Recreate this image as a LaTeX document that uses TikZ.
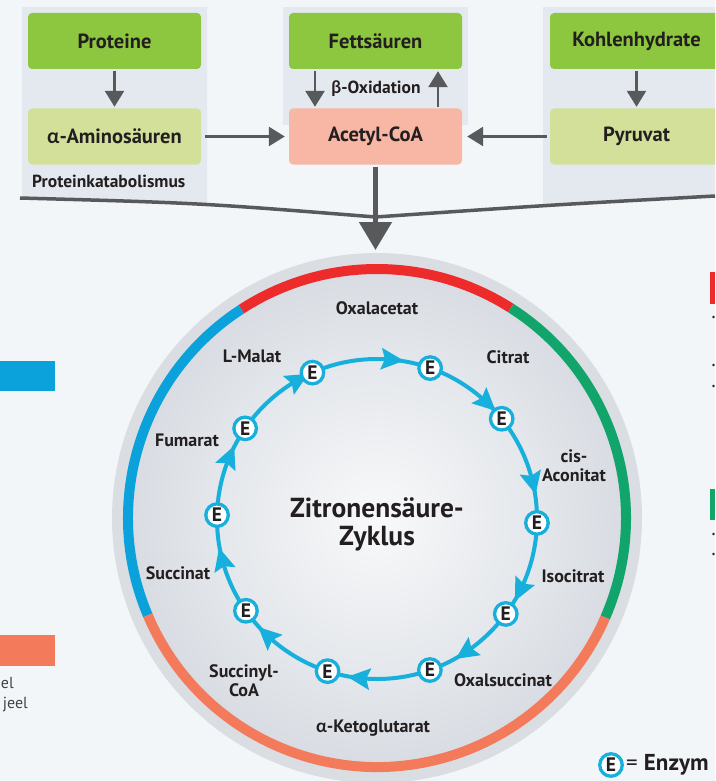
\documentclass[tikz,border=0pt]{standalone}
\usepackage{fontspec}
\setmainfont{PT Sans}
\newfontfamily\grk{Lato}
\usetikzlibrary{arrows.meta}
\definecolor{bg}{HTML}{F3F6F9}
\definecolor{panel}{HTML}{E4E9EF}
\definecolor{gboxc}{HTML}{8DC63F}
\definecolor{lboxc}{HTML}{D3E09A}
\definecolor{sboxc}{HTML}{F8B6A5}
\definecolor{agray}{HTML}{58595B}
\definecolor{ringred}{HTML}{EE2B2B}
\definecolor{ringgreen}{HTML}{12A56B}
\definecolor{ringblue}{HTML}{0BA2DB}
\definecolor{ringorange}{HTML}{F47A5C}
\definecolor{cyc}{HTML}{17B0DD}
\definecolor{txt}{HTML}{231F20}
\definecolor{diskedge}{HTML}{DADEE3}
\definecolor{diskin}{HTML}{F8F9FA}
\definecolor{diskout}{HTML}{D9DDE3}
\begin{document}
\begin{tikzpicture}[x=1pt,y=-1pt,
  box/.style={rounded corners=4pt, minimum width=173pt, minimum height=56pt, inner sep=0pt,
    font=\bfseries\fontsize{20.5}{23}\selectfont, text=txt},
  arr/.style={draw=agray, line width=2.6pt, -{Triangle[width=19pt,length=16pt]}},
  enz/.style={circle, draw=cyc, line width=3.3pt, fill=white, minimum size=22.5pt, inner sep=0pt,
    font=\bfseries\fontsize{19.5}{19.5}\selectfont, text=txt},
  lab/.style={font=\bfseries\fontsize{18}{19}\selectfont, text=txt, align=center, inner sep=0pt},
  small/.style={font=\bfseries\fontsize{17.5}{19}\selectfont, text=txt, inner sep=0pt}]
\useasboundingbox (0,0) rectangle (715,781);
\clip (0,0) rectangle (715,781);
\fill[bg] (0,0) rectangle (715,781);
% panels
\fill[panel] (22,7) -- (207,7) -- (207,205) -- (22,197) -- cycle;
\fill[panel] (283,7) rectangle (468,125);
\fill[panel] (543,7) -- (715,7) -- (715,195) -- (543,205) -- cycle;
% boxes
\node[box, fill=gboxc] (prot) at (114.5,41) {Proteine};
\node[box, fill=lboxc] (amino) at (114.5,136.5) {{\grk α}-Aminosäuren};
\node[box, fill=gboxc] (fett) at (375.5,41) {Fettsäuren};
\node[box, fill=sboxc] (acetyl) at (375.5,136.5) {Acetyl-CoA};
\node[box, fill=gboxc] (kohl) at (636.5,41) {Kohlenhydrate};
\node[box, fill=lboxc] (pyr) at (636.5,136.5) {Pyruvat};
\node[small, anchor=west] (katab) at (32,181) {Proteinkatabolismus};
\node[small] (beta) at (376,89) {{\grk β}-Oxidation};
% small arrows
\draw[arr, shorten <=2pt, shorten >=1.5pt] (prot.south) -- (amino.north);
\draw[arr, shorten <=2pt, shorten >=1.5pt] ([xshift=-60.5pt]fett.south) -- ([xshift=-60.5pt]acetyl.north);
\draw[arr, shorten <=1.5pt, shorten >=2pt] ([xshift=62.5pt]acetyl.north) -- ([xshift=62.5pt]fett.south);
\draw[arr, shorten <=2pt, shorten >=1.5pt] (kohl.south) -- (pyr.north);
\draw[arr, shorten <=4pt, shorten >=4pt] (amino.east) -- (acetyl.west);
\draw[arr, shorten <=3pt, shorten >=5pt] (pyr.west) -- (acetyl.east);
% funnel line
\coordinate (fl) at (20,198);
\coordinate (fm) at (375.5,217);
\coordinate (fr) at (715,196);
\draw[agray, line width=3.5pt] (fl) .. controls (200,203) .. (fm) .. controls (550,205) .. (fr);
% disk
\fill[diskedge] (377,518) circle (265);
\shade[inner color=diskin, outer color=diskout] (377,518) circle (244);
% big arrow
\coordinate (tip) at (375.5,250);
\draw[agray, line width=5pt, -{Triangle[width=32pt,length=28pt]}, shorten <=2pt] (acetyl.south) -- (tip);
% ring and cycle
\begin{scope}[shift={(377,518)}, yscale=-1]
  \draw[ringred, line width=10pt] (57.5:249) arc[start angle=57.5, end angle=123, radius=249];
  \draw[ringblue, line width=10pt] (123:249) arc[start angle=123, end angle=203, radius=249];
  \draw[ringorange, line width=10pt] (203:249) arc[start angle=203, end angle=336.5, radius=249];
  \draw[ringgreen, line width=10pt] (336.5:249) arc[start angle=336.5, end angle=417.5, radius=249];
  \draw[cyc, line width=4pt] (0,-1) circle (160);
  \foreach \a in {96,56,26,-13.5,-47,-85,-120,-157.5,165,133}
    \fill[cyc, shift={(0,-1)}, rotate=\a] (160,-13) -- (171,10) -- (160,6) -- (149,10) -- cycle;
  \begin{scope}[shift={(0,-1)}]
  \node[enz] (e1) at (113.8:160) {E};
  \node[enz] (e2) at (70.6:160) {E};
  \node[enz] (e3) at (38.8:160) {E};
  \node[enz] (e4) at (-1.4:160) {E};
  \node[enz] (e5) at (-36.4:160) {E};
  \node[enz] (e6) at (-70.7:160) {E};
  \node[enz] (e7) at (-108:160) {E};
  \node[enz] (e8) at (-145:160) {E};
  \node[enz] (e9) at (178.6:160) {E};
  \node[enz] (e10) at (145.5:160) {E};
  \end{scope}
\end{scope}
% labels
\node[lab] (oxa) at (377,308) {Oxalacetat};
\node[lab] (mal) at (252,356) {L-Malat};
\node[lab] (cit) at (508,357) {Citrat};
\node[lab] (fum) at (187,440) {Fumarat};
\node[lab] (aco) at (574,466) {cis-\\Aconitat};
\node[lab] (iso) at (573,576) {Isocitrat};
\node[lab] (oxs) at (503,680) {Oxalsuccinat};
\node[lab] (keto) at (373,728) {{\grk α}-Ketoglutarat};
\node[lab] (scoa) at (244,681) {Succinyl-\\CoA};
\node[lab] (suc) at (178,573) {Succinat};
\node[font=\bfseries\fontsize{27.5}{28}\selectfont, text=txt, align=center, inner sep=0pt] (title) at (377,524) {Zitronensäure-\\Zyklus};
% side legends
\fill[ringblue] (0,361) rectangle (55,391);
\fill[ringorange] (0,635) rectangle (55,666);
\node[anchor=base east, font=\fontsize{16}{16}\selectfont, text=txt!85, inner sep=0pt] (t1) at (14,688) {el};
\node[anchor=base east, font=\fontsize{16}{16}\selectfont, text=txt!85, inner sep=0pt] (t2) at (28,708) {jeel};
\fill[ringred] (710,272) rectangle (715,304);
\fill[ringgreen] (710,489) rectangle (715,520);
\foreach \yy in {317,365,386,534,554} \fill[txt] (713.5,\yy) circle (1.3);
% enzyme legend
\node[enz] (le) at (611,765) {E};
\node[anchor=west, font=\fontsize{23}{24}\selectfont, text=txt, inner sep=0pt] (lt) at (626,765) {= \textbf{Enzym}};
\end{tikzpicture}
\end{document}
